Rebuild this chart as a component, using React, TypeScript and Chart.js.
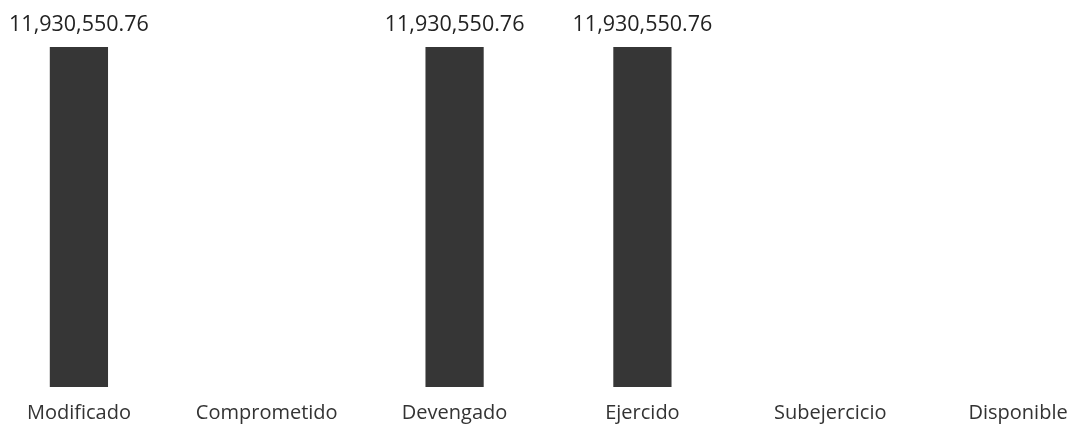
import React, { useEffect, useRef } from "react";
import { Chart, registerables } from "chart.js";

Chart.register(...registerables);

const categories: string[] = [
  "Modificado",
  "Comprometido",
  "Devengado",
  "Ejercido",
  "Subejercicio",
  "Disponible",
];

const amounts: number[] = [11930550.76, 0, 11930550.76, 11930550.76, 0, 0];

const amountLabels: string[] = [
  "11,930,550.76",
  "",
  "11,930,550.76",
  "11,930,550.76",
  "",
  "",
];

const valueLabelPlugin = {
  id: "valueLabels",
  afterDatasetsDraw(chart: any) {
    const ctx = chart.ctx;
    const meta = chart.getDatasetMeta(0);
    ctx.save();
    ctx.font = '21.5px "Open Sans"';
    ctx.fillStyle = "#222222";
    ctx.textAlign = "center";
    ctx.textBaseline = "alphabetic";
    meta.data.forEach((bar: any, i: number) => {
      const txt = amountLabels[i];
      if (!txt) return;
      ctx.fillText(txt, bar.x, bar.y - 16);
    });
    ctx.restore();
  },
};

export default function App() {
  const canvasRef = useRef<HTMLCanvasElement | null>(null);

  useEffect(() => {
    if (!canvasRef.current) return;
    const chart = new Chart(canvasRef.current, {
      type: "bar",
      data: {
        labels: categories,
        datasets: [
          {
            data: amounts,
            backgroundColor: "#363636",
            borderWidth: 0,
            barPercentage: 0.31,
            categoryPercentage: 1,
          },
        ],
      },
      options: {
        animation: false,
        responsive: true,
        maintainAspectRatio: false,
        layout: { padding: { top: 47, bottom: 4, left: 0, right: 0 } },
        plugins: {
          legend: { display: false },
          tooltip: { enabled: false },
          title: { display: false },
        },
        scales: {
          x: {
            grid: { display: false, drawTicks: false },
            border: { display: false },
            ticks: {
              padding: 14,
              color: "#333333",
              font: { family: "Open Sans", size: 20 },
              maxRotation: 0,
              autoSkip: false,
            },
          },
          y: {
            display: false,
            min: 0,
            max: 11930550.76,
          },
        },
      },
      plugins: [valueLabelPlugin],
    });
    return () => chart.destroy();
  }, []);

  return (
    <div
      style={{
        position: "fixed",
        left: 0,
        top: 0,
        width: 1073,
        height: 428,
        overflow: "hidden",
        background: "#ffffff",
      }}
    >
      <div
        style={{
          position: "absolute",
          left: -15,
          top: 0,
          width: 1127,
          height: 443,
        }}
      >
        <canvas ref={canvasRef} />
      </div>
    </div>
  );
}
